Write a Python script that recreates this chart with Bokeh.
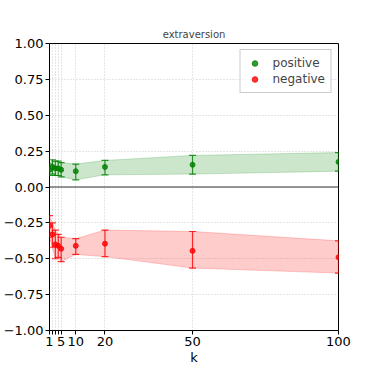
from bokeh.plotting import figure
from bokeh.models import FixedTicker, Span, Legend, LegendItem, ColumnDataSource
from bokeh.embed import file_html
from bokeh.resources import INLINE

title = "extraversion"
k = [1, 2, 3, 4, 5, 10, 20, 50, 100]
x_tick_labels = {1: "1", 2: "", 3: "", 4: "", 5: "5", 10: "10", 20: "20", 50: "50", 100: "100"}
y_ticks = [-1.0, -0.75, -0.5, -0.25, 0.0, 0.25, 0.5, 0.75, 1.0]

pos_mean = [0.12, 0.14, 0.13, 0.13, 0.12, 0.11, 0.14, 0.155, 0.175]
pos_lo = [0.08, 0.09, 0.08, 0.08, 0.07, 0.05, 0.085, 0.09, 0.11]
pos_hi = [0.16, 0.19, 0.18, 0.18, 0.17, 0.16, 0.185, 0.22, 0.24]

neg_mean = [-0.27, -0.33, -0.40, -0.41, -0.43, -0.41, -0.395, -0.445, -0.49]
neg_lo = [-0.35, -0.42, -0.50, -0.49, -0.52, -0.47, -0.485, -0.565, -0.60]
neg_hi = [-0.20, -0.25, -0.30, -0.33, -0.35, -0.36, -0.30, -0.31, -0.375]

p = figure(width=360, height=367, x_range=(1, 100), y_range=(-1, 1),
           output_backend="svg", toolbar_location=None,
           min_border_left=39, min_border_right=22, min_border_top=43, min_border_bottom=28)

p.title.text = title
p.title.align = "center"
p.title.text_font = "DejaVu Sans"
p.title.text_font_size = "10px"
p.title.text_font_style = "normal"
p.title.standoff = 7

p.outline_line_color = "black"
p.outline_line_width = 1
p.outline_line_alpha = 1

p.xaxis.ticker = FixedTicker(ticks=k)
p.xaxis.major_label_overrides = {kk: v for kk, v in x_tick_labels.items()}
p.yaxis.ticker = FixedTicker(ticks=y_ticks)
p.yaxis.major_label_overrides = {t: ("%.2f" % t).replace("-", "\u2212") for t in y_ticks}
for ax in (p.xaxis[0], p.yaxis[0]):
    ax.major_label_text_font = "DejaVu Sans"
    ax.major_label_text_font_size = "13px"
    ax.major_label_text_color = "black"
    ax.major_tick_out = 4
    ax.major_tick_in = 0
    ax.minor_tick_out = 0
    ax.minor_tick_in = 0
    ax.axis_line_color = None
    ax.major_tick_line_color = "black"
    ax.major_label_standoff = 2
p.xaxis.axis_label = "k"
p.xaxis.axis_label_text_font = "DejaVu Sans"
p.xaxis.axis_label_text_font_size = "13px"
p.xaxis.axis_label_text_font_style = "normal"
p.xaxis.axis_label_text_color = "black"
p.xaxis.axis_label_standoff = 1

p.xgrid.ticker = FixedTicker(ticks=k)
p.ygrid.ticker = FixedTicker(ticks=y_ticks)
for g in (p.xgrid[0], p.ygrid[0]):
    g.grid_line_color = "#b0b0b0"
    g.grid_line_dash = "1 2"
    g.grid_line_width = 0.8
    g.grid_line_alpha = 0.8

p.add_layout(Span(location=0, dimension="width", line_color="black", line_width=0.8))

items = []
for label, col, m, lo, hi in [("positive", "green", pos_mean, pos_lo, pos_hi),
                              ("negative", "red", neg_mean, neg_lo, neg_hi)]:
    src = ColumnDataSource(dict(x=k, m=m, lo=lo, hi=hi))
    p.varea(x="x", y1="lo", y2="hi", source=src, fill_color=col, fill_alpha=0.2)
    p.line(x="x", y="lo", source=src, line_color=col, line_alpha=0.2, line_width=1)
    p.line(x="x", y="hi", source=src, line_color=col, line_alpha=0.2, line_width=1)
    p.segment(x0="x", y0="lo", x1="x", y1="hi", source=src, line_color=col, line_alpha=0.8, line_width=1.2)
    p.scatter(x="x", y="lo", source=src, marker="dash", size=7, line_color=col, line_alpha=0.8, line_width=1.2)
    p.scatter(x="x", y="hi", source=src, marker="dash", size=7, line_color=col, line_alpha=0.8, line_width=1.2)
    pts = p.scatter(x="x", y="m", source=src, marker="circle", size=5, fill_color=col, line_color=col,
                    fill_alpha=0.8, line_alpha=0.8)
    items.append(LegendItem(label=label, renderers=[pts]))

legend = Legend(items=items, location="top_right")
legend.label_text_font = "DejaVu Sans"
legend.label_text_font_size = "12px"
legend.border_line_color = "#cccccc"
legend.border_line_alpha = 1
legend.background_fill_alpha = 0.8
legend.glyph_width = 16
legend.glyph_height = 14
legend.label_standoff = 10
legend.spacing = 2
legend.padding = 6
legend.margin = 6
p.add_layout(legend)

open("out.html", "w").write(file_html(p, INLINE))
